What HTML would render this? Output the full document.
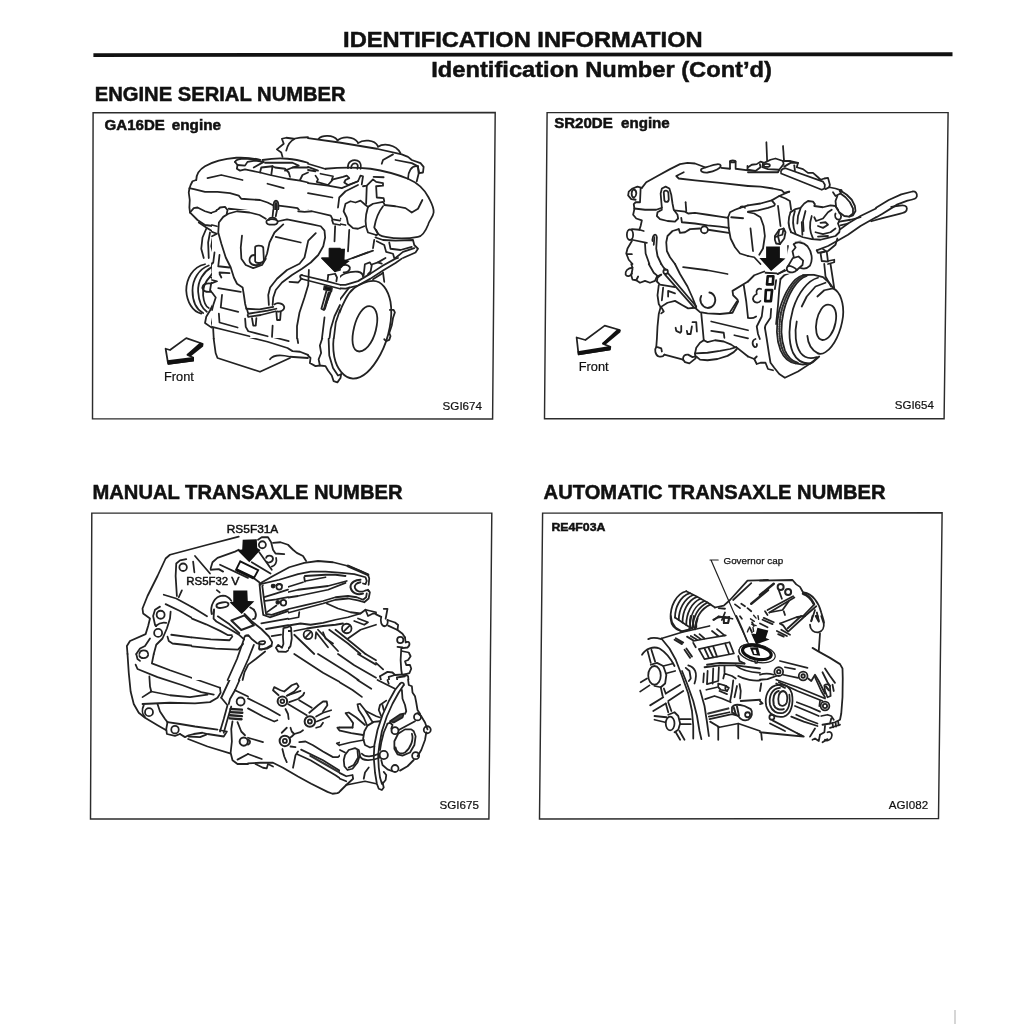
<!DOCTYPE html>
<html><head><meta charset="utf-8">
<style>
html,body{margin:0;padding:0;background:#fff;}
body{width:1024px;height:1024px;overflow:hidden;}
svg{display:block;filter:blur(0.45px);}
text{font-family:"Liberation Sans",sans-serif;fill:#111;stroke:#111;stroke-width:0.2;}
.b{font-weight:bold;stroke:#111;stroke-width:0.5;}
.ln{fill:none;stroke:#222;stroke-width:1.75;stroke-linecap:round;stroke-linejoin:round;}
.box{fill:none;stroke:#2c2c2c;stroke-width:1.45;stroke-linejoin:miter;}
.k{fill:#111;stroke:none;}
.t8{stroke-width:14.2;}
.w{fill:#fff;}
</style></head><body>
<svg width="1024" height="1024" viewBox="0 0 1024 1024">
<rect width="1024" height="1024" fill="#fff"/>
<!-- header -->
<text class="b" x="343.1" y="47.3" font-size="21.9" textLength="359.6" lengthAdjust="spacingAndGlyphs">IDENTIFICATION INFORMATION</text>
<polygon class="k" points="93.4,53.2 952.5,52.3 952.5,56.2 93.4,56.9"/>
<text class="b" x="431.3" y="76.6" font-size="22.6" textLength="340.6" lengthAdjust="spacingAndGlyphs">Identification Number (Cont’d)</text>
<text class="b" x="94.7" y="101.4" font-size="20.1" textLength="251" lengthAdjust="spacingAndGlyphs">ENGINE SERIAL NUMBER</text>
<text class="b" x="92.5" y="499.4" font-size="20.1" textLength="310" lengthAdjust="spacingAndGlyphs">MANUAL TRANSAXLE NUMBER</text>
<text class="b" x="543.6" y="499.4" font-size="20.1" textLength="342" lengthAdjust="spacingAndGlyphs">AUTOMATIC TRANSAXLE NUMBER</text>
<!-- boxes -->
<polygon class="box" points="93.1,112.7 495.2,112.6 492.6,419 92.5,418.8"/>
<polygon class="box" points="547.1,112.6 948.1,112.6 944.1,418.8 544.5,418.8"/>
<polygon class="box" points="91.8,513.1 491.8,513.1 488.9,819 90.5,819"/>
<polygon class="box" points="542.6,513.1 942.1,512.8 938.5,818.6 539.5,819"/>
<path d="M955,1010 L955,1024" style="stroke:#c8c8c8;stroke-width:1.5;fill:none"/>
<g id="d1">
<!-- tile A: origin 180,130 -->
<g transform="translate(180,130) scale(0.125)" class="ln t8">
<path d="M130,400 C130,360 150,320 200,290 C260,255 350,230 450,222 C520,218 580,225 640,238"/>
<path d="M130,400 L100,410 L85,440 L75,470 L70,500 L78,560 L75,620 L80,660"/>
<path d="M75,465 L120,475 L200,495 L300,495 L400,505 L470,525 L490,550 L560,555 L640,560 L700,580 L740,600"/>
<path d="M790,605 L870,615 L940,625 L960,650 L1024,655"/>
<path d="M80,660 L110,625 L140,620 L200,650 L250,665 L290,650 L320,620 L360,615 L380,640 L370,670 L330,700 L310,740 L300,800 L290,830"/>
<path d="M85,665 L140,720 L200,760 L280,770"/>
<path d="M150,740 L210,780 L290,830"/>
<path d="M390,630 L480,640 L560,650 L640,670 L700,700"/>
<path d="M790,720 L900,715 L1024,740"/>
<path d="M400,660 L330,700"/>
<path d="M220,385 L330,360 L500,400"/>
<path d="M700,430 L830,465"/>
<path d="M440,255 C450,235 470,228 520,228 L640,240"/>
<path d="M440,255 L460,280 L455,310 L480,325 L520,315 L640,340 L720,360 L860,390 L960,405 L1024,420"/>
<path d="M460,280 L520,285 L540,255 L600,245 L670,255 L590,300"/>
<path d="M640,340 L650,300 L740,290 L730,360"/>
<path d="M740,290 L760,300 L840,310 L870,340 L880,375"/>
<path d="M840,325 L900,300 L1024,300"/>
<path d="M960,400 L980,360 L1024,340"/>
<path d="M680,262 L900,262 L950,285 L900,300"/>
<path d="M660,240 C720,230 800,225 860,230 C920,235 980,250 1024,262"/>
<ellipse cx="768" cy="612" rx="20" ry="46"/>
<ellipse cx="768" cy="614" rx="7" ry="30"/>
<path d="M752,655 L745,700 M775,660 L772,700"/>
<ellipse cx="735" cy="740" rx="45" ry="20"/>
<path d="M705,715 C710,695 770,695 775,720"/>
<path d="M820,215 L810,180 L775,155 L830,110 L815,70 L850,62 L910,70 C950,60 990,58 1024,58"/>
<path d="M850,165 C860,120 880,90 915,72"/>
<path d="M300,830 L330,900 L360,1024"/>
<path d="M290,830 L260,870 L250,930 L270,1000"/>
<path d="M210,790 L180,860 L170,950 L190,1024"/>
<path d="M240,820 L225,900 L230,1024"/>
<path d="M490,840 L485,1024"/>
<path d="M830,750 L760,810 L720,870 L700,950 L690,1024"/>
<path d="M760,855 L965,895"/>
<path d="M1010,930 L1000,1024"/>
<path d="M560,1024 L590,990 L600,940 L640,925 L670,950 L680,1024"/>
</g>
<!-- tile B: origin 308,130 -->
<g transform="translate(308,130) scale(0.125)" class="ln t8">
<path d="M0,65 L250,100 L550,150 L750,195 L800,215 L830,240 L900,265 L925,295 L920,340 L890,345 L880,300"/>
<path d="M85,70 C110,40 200,35 235,80"/>
<path d="M235,85 C270,50 360,45 400,100"/>
<path d="M400,105 C440,75 530,75 560,130"/>
<path d="M560,135 C600,105 700,110 740,185"/>
<path d="M590,270 L600,240 L680,195"/>
<path d="M700,240 L830,265 L880,290"/>
<path d="M800,390 C800,330 830,285 870,290"/>
<path d="M880,290 L885,350 L870,410"/>
<path d="M140,310 C250,300 400,300 500,310 C600,325 700,350 800,390 C870,420 930,470 965,540 C985,580 1010,620 1005,660 C1000,700 970,720 960,760 C940,810 920,850 880,855 C800,870 700,870 620,855 C580,850 560,840 545,800"/>
<path d="M320,305 C315,250 360,235 395,245 C425,255 425,290 420,310"/>
<path d="M345,305 C345,275 365,262 385,268 C400,275 400,295 395,310"/>
<path d="M0,270 L100,300 L140,312"/>
<path d="M0,295 L80,325"/>
<path d="M0,320 L60,330"/>
<path d="M60,365 L80,395 L70,415 L160,440 L200,395 L280,375 L310,365 L330,385 L300,400 L290,420 L320,440 L400,410 L420,365 L440,370 L430,435"/>
<path d="M0,425 L160,445 L270,465 L330,440 L400,410"/>
<path d="M100,350 L200,370 L190,400"/>
<path d="M0,505 L195,540"/>
<path d="M240,620 L250,540 L300,490 L400,440"/>
<path d="M0,645 L180,685 L195,700 L190,740 L300,760"/>
<path d="M200,710 L260,710"/>
<path d="M480,615 L460,600 L420,565 L380,580 L340,570 L300,590 L285,650 L310,700 L320,750 L360,785 L400,790 L450,770"/>
<path d="M480,615 C460,680 450,760 480,820 L545,840"/>
<path d="M480,615 L520,590 L600,575 L610,590"/>
<path d="M600,610 C560,660 540,720 530,780 L560,830 L545,845"/>
<path d="M610,600 L700,610 L780,625 L830,660 L880,630 L915,560"/>
<path d="M465,590 L470,450"/>
<path d="M440,450 L470,445 L520,395 L545,415 L600,425 L600,445 L545,450 L550,540 L605,545 L610,570"/>
<path d="M525,375 L605,378"/>
<path d="M0,745 L80,760 L130,800 L140,850 L110,950 L85,1024"/>
<path d="M70,825 L0,880"/>
<path d="M215,770 L200,830 L215,860 L215,940"/>
<path d="M330,800 L320,970"/>
<path d="M530,880 L520,945"/>
<path d="M360,1024 L520,965"/>
<path d="M540,860 L600,880 L700,885 L840,880 L850,920 L880,950 L860,980 L760,1024"/>
<path d="M550,890 L610,920 L625,975 L680,990 L690,1024"/>
<path d="M650,900 L660,950 L740,960 L830,935"/>
<path d="M700,1024 L760,975 L850,945"/>
</g>
<!-- tile C: origin 180,258 -->
<g transform="translate(180,258) scale(0.125)" class="ln t8">
<path d="M200,50 C100,70 50,170 50,260 C55,350 100,430 170,445"/>
<path d="M230,60 C150,90 100,170 100,260 C100,340 130,410 185,440"/>
<path d="M250,75 C190,110 140,180 145,270 C150,340 170,400 215,430"/>
<path d="M240,150 C200,190 180,240 185,300 C190,350 210,390 230,400"/>
<path d="M180,240 C180,210 210,200 250,205"/>
<path d="M180,240 C185,270 220,275 260,270"/>
<path d="M270,0 L255,60 L260,120 L240,150 L290,180 L250,200 L240,260 L290,300 L270,360 L240,420 L210,470 L200,520 L250,555 L265,560"/>
<path d="M320,0 L300,62 L410,70"/>
<path d="M305,125 L400,120 M320,140 L330,165"/>
<path d="M360,0 L400,60 L430,120 L440,180 L500,220 L515,260 L520,330 L530,390 L545,440"/>
<path d="M310,240 L490,270"/>
<path d="M335,295 L325,400 L465,435"/>
<path d="M310,450 L315,520 L465,560"/>
<path d="M270,440 L255,520 L265,560"/>
<path d="M265,560 L270,650 L285,760 L300,800 L640,910 L880,800"/>
<path d="M265,560 L500,620 L700,670 L860,720 L900,745 L960,750 L1024,775"/>
<path d="M720,810 C740,780 800,770 880,790 L1024,800"/>
<path d="M530,395 L620,405 L745,395"/>
<path d="M540,450 L545,465 L640,450 L760,420"/>
<path d="M545,440 L700,415 L770,400"/>
<path d="M755,365 C770,345 820,350 830,380 C835,410 800,420 780,420"/>
<path d="M575,480 L585,540 L605,540 L610,480"/>
<path d="M770,430 L775,490 L800,495 L805,430"/>
<path d="M1024,20 L900,80 L800,150 L720,240 L705,290 L710,380"/>
<path d="M1024,95 L900,150 L800,230 L755,300 L745,370"/>
<path d="M880,185 L940,190 L1000,170"/>
<path d="M1024,190 L1015,250 L970,380 L940,520 L935,620 L945,680"/>
<path d="M520,480 L525,545 L545,580 L700,620"/>
<path d="M740,540 L735,630 L870,665"/>
<path d="M490,0 C490,50 540,85 590,85 C650,80 690,50 690,0"/>
<path d="M560,0 L565,40 L590,55 L640,45 L670,20"/>
</g>
<!-- tile D: origin 308,258 -->
<g transform="translate(308,258) scale(0.125)" class="ln t8">
<path d="M370,240 C420,205 470,185 520,183 C590,182 640,250 660,350 C680,470 650,640 580,770 C520,880 440,965 360,965 C290,960 230,890 210,790 C185,660 220,480 300,330 C320,290 345,260 370,240 Z"/>
<path d="M330,235 L250,340 L190,500 L165,650 L170,780 L200,880 L240,940 L265,930"/>
<path d="M490,385 C540,385 565,450 550,540 C535,640 480,745 410,748 C350,745 345,650 370,550 C395,450 445,385 490,385 Z"/>
<path d="M655,415 L685,415 L695,435 L680,480 L670,540 L650,600"/>
<path d="M650,600 L660,625 L650,655 L625,665 L610,650"/>
<path d="M0,165 L100,190 L200,215 L300,215 L400,185 L500,125 L600,60 L700,5 L720,0"/>
<path d="M0,195 L100,215 L200,240 L300,245 L400,220 L500,165 L600,100 L700,40 L750,5"/>
<path d="M265,75 C270,50 320,45 335,75 C340,100 310,120 285,115"/>
<path d="M240,180 C250,130 330,105 400,110 C430,115 440,130 440,150"/>
<path d="M445,140 L455,50 L495,35 L510,60 L500,110 L480,130"/>
<path d="M515,50 L560,35 L590,45"/>
<path d="M560,35 L620,0"/>
<path d="M600,115 L610,190"/>
<path d="M520,170 L600,120"/>
<path d="M160,140 L200,130 L225,145 L215,190"/>
<path d="M160,140 L155,185"/>
<path d="M0,90 L10,140 L0,165"/>
<path d="M145,480 L105,580 L115,640 L95,700 L105,760 L85,810 L95,860 L140,865 L160,900 L190,940 L205,985 L235,995 L260,960 L265,930"/>
<path d="M0,780 L20,800 L15,840 L60,865 L95,860"/>
<path d="M145,480 L200,330 L240,250"/>
<path d="M0,60 C40,50 70,20 80,0"/>
<path class="k" d="M130,225 L200,240 L195,262 L135,250 Z" style="fill:#111"/>
<path d="M150,260 L110,400 L130,410 L185,265"/>
<path d="M170,275 L135,400" style="stroke-width:22"/>
</g>
<!-- tile E overlay: origin 212,210 -->
<g transform="translate(212,210) scale(0.125)" class="ln t8">
<rect x="0" y="0" width="1024" height="1024" style="fill:#fff;stroke:none"/>
<path d="M275,790 L265,750 L255,680 L245,620 L200,590 L175,540 L150,460 L110,380 L75,270 L50,180 L55,100 L90,55 L130,30 L200,10 L300,20 L380,40 L430,70"/>
<path d="M530,90 L600,75 L700,95 L800,115 L870,130 L900,165 L905,220 L890,290 L850,360 L790,420 L720,470 L640,520 L560,580 L510,640 L490,700 L485,760"/>
<path d="M455,760 L450,680 L465,620 L520,550 L600,480 L700,430 L740,380 L760,290 L770,245 L830,185"/>
<path d="M570,115 L500,180 L460,260 L440,350 L420,400"/>
<path d="M510,215 L710,260"/>
<path d="M240,205 L230,300 L235,390 L270,440 L330,465 L400,440 L430,390"/>
<path d="M345,300 C345,280 400,280 410,300 L415,400 C410,430 350,430 345,410 Z"/>
<path d="M340,360 C300,360 295,400 305,420 C320,450 370,445 390,430"/>
<ellipse cx="480" cy="95" rx="45" ry="22"/>
<path d="M455,80 C455,55 510,55 515,80"/>
<path d="M490,0 L485,50 M520,0 L510,50"/>
<path d="M690,10 L740,15 L800,10 L950,45 L965,75 L1024,85"/>
<path d="M960,80 L970,110 L1024,120"/>
<path d="M985,130 L980,250"/>
<path d="M720,522 L900,565 L1024,598"/>
<path d="M720,552 L900,598 L1024,630"/>
<path d="M720,520 C700,520 700,545 720,550"/>
<path d="M620,575 L690,580 L715,550"/>
<path d="M775,480 L770,600 L740,700 L700,820 L680,930 L680,1024"/>
<path d="M930,520 L985,510 L1000,540 L995,570"/>
<path d="M930,520 L925,560"/>
<path d="M900,610 L960,625 L955,650 L895,635 Z" style="fill:#111"/>
<path d="M915,650 L875,790 L895,800 L950,655"/>
<path d="M935,665 L900,790" style="stroke-width:22"/>
<path d="M940,310 L1024,310 L1024,480 L985,490 L880,385 L940,385 Z" style="fill:#111"/>
<path d="M0,20 L30,10 L40,0"/>
<path d="M0,120 L40,130"/>
<path d="M0,175 L40,190 L0,210"/>
<path d="M20,340 L10,420 L0,430"/>
<path d="M60,360 L50,450 L140,460"/>
<path d="M60,500 L140,505 M60,510 L75,540"/>
<path d="M0,560 L40,570 L0,585"/>
<path d="M50,625 L230,655"/>
<path d="M80,680 L70,780 L210,815"/>
<path d="M55,830 L60,900 L205,940"/>
<path d="M0,660 L30,700 L10,760 L0,800"/>
<path d="M0,935 L100,960 L300,1010"/>
<path d="M9,944 L14,1030"/>
<path d="M124,0 L118,30"/>
<path d="M275,790 L380,795 L490,775"/>
<path d="M285,840 L290,855 L390,840 L510,810"/>
<path d="M280,795 L290,830 L445,805 L515,790"/>
<path d="M500,755 C520,735 570,745 578,775 C580,805 545,815 525,812"/>
<path d="M320,865 L330,925 L350,925 L355,865"/>
<path d="M515,815 L520,880 L545,880 L550,815"/>
<path d="M265,870 L270,935 L290,970 L445,1010"/>
<path d="M485,925 L480,1015"/>
<path d="M1024,760 L980,850 L950,950 L940,1024"/>
<path d="M1024,800 L990,900 L975,1024"/>
<path d="M900,860 L880,1024"/>
</g>
<path class="ln" d="M344.5,261 L368,252.3"/>
<!-- black arrow -->
<polygon class="k" points="329.5,248.8 345,248.8 344.5,259.5 349.8,261 335,272.2 321.3,258 329.5,258.5"/>
<!-- Front arrow: origin 150,320 -->
<g transform="translate(150,320) scale(0.125)">
<path class="ln t8" d="M125,230 L160,240 L290,145 L420,190 L300,280 L345,300 L345,325 L145,350 Z"/>
<polygon class="k" points="400,180 428,190 425,212 325,292 292,276"/>
<polygon class="k" points="138,322 330,298 352,298 352,330 145,358"/>
</g>
<text x="164" y="381.3" font-size="12.3" textLength="29.8" lengthAdjust="spacingAndGlyphs">Front</text>
</g>

<g id="d2">
<!-- D2-A origin 620,136 -->
<g transform="translate(620,136) scale(0.125)" class="ln t8">
<path d="M175,415 L210,370 L300,320 L400,265 L480,225 L540,215 L600,220 L680,250"/>
<path d="M650,265 C640,280 660,295 700,292 C760,285 810,255 805,235 C800,220 760,225 720,240 C690,250 660,255 650,265 Z"/>
<path d="M810,255 L880,262"/>
<path d="M880,205 L880,260 M925,205 L925,258 M925,262 L1024,275 M1020,240 L1020,270"/>
<ellipse cx="902" cy="203" rx="22" ry="8"/>
<path d="M510,290 L450,320 L470,340 L600,355 L800,375 L1024,400"/>
<path d="M175,415 L140,405 L100,420 L70,445 L65,475 L90,505 L125,510"/>
<path d="M110,425 C90,440 85,480 110,495 C135,480 140,440 110,425 Z"/>
<path d="M165,420 L160,530 L125,530 L110,545 L115,580"/>
<path d="M115,580 L200,590 L290,590 L335,575"/>
<path d="M335,575 L330,520 L325,460 L335,420 L365,405 L395,420 L410,470 L420,540 L430,590 L460,630 L465,660 L440,685 L380,680 L320,665 L295,640 L300,610 L335,590"/>
<path d="M350,450 C355,430 385,435 387,455 L390,510 C385,535 360,530 355,515 Z"/>
<path d="M435,595 L520,605 L545,620 L600,615 L700,630 L800,645 L865,655"/>
<path d="M525,530 L530,600"/>
<path d="M490,655 L495,690 L600,700 L700,715 L800,725 L870,735"/>
<path d="M115,585 L105,630 L130,660 L175,675 L165,720 L155,750"/>
<path d="M95,745 L155,750 L190,760"/>
<ellipse cx="80" cy="790" rx="25" ry="42"/>
<path d="M95,830 L215,855"/>
<path d="M95,840 L60,900 L50,940 L70,990 L100,1024 M60,945 L95,945"/>
<path d="M200,860 L205,940 L235,1024"/>
<path d="M260,840 C255,790 290,770 295,810 L290,900 L300,960 L330,1024"/>
<path d="M275,810 L270,870"/>
<path d="M470,745 L420,760 L380,800 L370,850 L375,920 L400,970 L440,1024"/>
<path d="M470,745 L480,775 L520,770 L560,745 L640,740"/>
<circle cx="675" cy="750" r="28"/>
<path d="M705,750 L870,775"/>
<path d="M865,650 L880,610 L920,590 L960,575 L1024,555"/>
<path d="M960,575 C965,560 990,560 1000,575"/>
<path d="M865,650 L870,740 L885,820 L920,890 L960,940 L1024,960"/>
<path d="M890,650 L985,658"/>
</g>
<!-- D2-B origin 748,136 -->
<g transform="translate(748,136) scale(0.125)" class="ln t8">
<path d="M147,50 L153,200" style="stroke-width:14"/>
<path d="M280,80 L288,195" style="stroke-width:14"/>
<path d="M0,250 L30,230 L70,225 L100,205 L130,215 L180,190 L220,180 L280,200 L340,200 L400,215 L390,250 L440,265 L480,295 L520,295 L560,330 L580,350 L610,340 L640,335 L655,390 L650,410"/>
<path d="M0,270 L60,280 L100,250 L95,225"/>
<path d="M120,215 L115,250 L160,265 L250,270 L285,225 L280,200"/>
<path d="M250,270 L240,290 L0,290"/>
<path d="M290,245 L340,215 L400,215"/>
<ellipse cx="150" cy="235" rx="25" ry="12"/>
<path d="M370,235 L375,275"/>
<path d="M300,258 L600,365 L615,390 L612,420 L590,430 L265,300 C255,280 275,258 300,258 Z"/>
<path d="M0,400 L100,405 L200,420 L270,435 L290,455 L330,445"/>
<path d="M0,555 L100,540 L190,515 L250,480 L330,445"/>
<path d="M0,605 L80,595 L160,575 L210,558 L215,545 L190,515"/>
<path d="M650,410 L700,420 L745,435"/>
<path d="M650,410 L620,425"/>
<circle cx="742" cy="440" r="8" style="fill:#111"/>
<path d="M745,440 L790,470 L830,510 L855,560 L860,600 L840,635 L810,645"/>
<path d="M740,460 L780,490 L815,530 L840,580 L840,620 L815,640"/>
<path d="M680,450 L700,480 L720,470 L740,460"/>
<path d="M715,480 L700,520 L705,570 L730,610 L770,640 L810,645"/>
<path d="M340,610 L380,585 L420,575 L450,540 L480,520 L520,525 L535,545 L530,560 L600,570 L660,555 L700,560 L720,590"/>
<path d="M340,610 C320,660 320,720 345,770"/>
<path d="M375,600 C355,660 355,720 380,780"/>
<path d="M345,770 L380,785 L440,810 L510,825 L580,830 L640,815 L700,800 L730,770 L735,740 L720,700 L730,680"/>
<path d="M510,640 C490,700 495,770 520,820"/>
<path d="M420,580 L400,640 L395,700"/>
<path d="M460,600 L440,680 L445,760"/>
<path d="M430,690 L435,790"/>
<path d="M530,650 L545,680 L600,660 L640,610 L670,590"/>
<path d="M560,720 L600,735 L640,710 L620,690 L580,695"/>
<path d="M540,770 L600,785 L660,770 L700,740"/>
<path d="M560,805 L640,800"/>
<path d="M700,620 C690,640 700,670 730,670 C750,660 750,630 730,615"/>
<path d="M1024,580 L900,640 L800,700 L740,745"/>
<path d="M1024,650 L900,720 L800,790 L730,830 L640,880 L550,915"/>
<path d="M730,685 L820,670 L900,650"/>
<path d="M740,715 L800,700"/>
<path d="M715,820 L700,870 L640,920 L580,935"/>
<path d="M215,800 L250,750 L285,740 L300,770 L290,820 L255,865 L225,860 L215,830 Z"/>
<path d="M250,750 L240,800 L255,865 M240,800 L215,810 M285,740 L275,790 L240,800"/>
<path d="M0,610 L50,620 L100,650 L125,720 L135,800 L120,900 L90,950"/>
<path d="M20,740 L40,920"/>
<path d="M0,960 L50,970 L100,1024"/>
<path d="M240,560 L250,640 L260,720"/>
<path d="M250,480 L300,500 L335,520 L345,590"/>
<path d="M320,880 L325,960"/>
<path d="M380,850 L420,845 L470,870 L500,920 L510,1024"/>
<path d="M380,850 L370,870 L390,890 L360,920 L350,960 L380,975 L340,1024"/>
<path d="M400,880 L460,900 L480,960 L470,1024"/>
<path d="M550,915 L560,935 L610,925"/>
<path d="M580,935 L590,1000 L640,1005 L630,925 L600,905"/>
<path d="M640,1000 L690,990 L690,1010 L640,1024"/>
</g>
<!-- D2-C origin 620,264 -->
<g transform="translate(620,264) scale(0.125)" class="ln t8">
<path d="M100,30 C60,30 40,60 45,85 C55,105 85,100 95,75"/>
<path d="M100,40 L90,90 L100,125 L130,130 L145,100"/>
<path d="M130,130 L160,150 L200,135 L240,150 L280,135 L295,100 L330,85"/>
<path d="M90,0 L100,30"/>
<path d="M230,0 L270,70 L300,95"/>
<path d="M330,85 L300,110 L295,140 L320,165 L380,175 L440,185"/>
<path d="M310,170 L300,250 L310,320 L325,345"/>
<path d="M345,190 L335,290"/>
<path d="M385,215 L385,260 M385,215 L440,235"/>
<path d="M325,345 L380,310 L440,295 L500,330 L545,355 L600,350"/>
<circle cx="365" cy="62" r="18"/>
<path d="M360,85 L590,345"/>
<path d="M385,75 L610,340"/>
<path d="M330,0 L350,30 L365,45"/>
<path d="M440,0 L480,80 L540,180 L580,270 L610,345"/>
<path d="M505,25 L700,50 L860,80"/>
<path d="M650,255 C630,290 650,340 700,352 C745,350 770,310 760,270 C750,240 730,230 715,228"/>
<path d="M600,350 L640,385 L700,395 L800,400 L900,390 L945,300 L940,285 L905,250 L900,215 L1024,140"/>
<path d="M880,385 L935,300"/>
<path d="M990,170 L1010,300 L1024,430"/>
<path d="M325,345 L310,400 L300,500 L295,600 L290,665"/>
<path d="M330,345 L350,380 L330,395"/>
<path d="M290,665 C275,680 280,730 310,740 C335,745 350,735 355,725"/>
<path d="M300,665 L330,675 L335,700"/>
<path d="M355,725 L430,745 L505,765"/>
<path d="M505,765 C500,740 520,720 545,725 L580,745 L600,740"/>
<path d="M505,765 L520,785 L555,795 L605,755 L600,720"/>
<path d="M650,395 L660,500 L670,610"/>
<path d="M445,510 L450,535 L480,550 L490,540 L490,495"/>
<path d="M535,535 L540,560 L565,560 L575,500"/>
<path d="M580,465 L610,465 L615,540"/>
<path d="M670,610 L640,630 L610,670 L600,715"/>
<path d="M670,610 L700,625 L760,610 L830,620 L890,645 L920,665"/>
<path d="M600,715 L700,710 L800,695 L880,680 L930,665"/>
<path d="M610,740 L640,765 L700,770 L780,760 L860,735 L910,705 L935,680"/>
<path d="M930,665 L1024,740"/>
<path d="M730,460 L1024,530"/>
<path d="M730,535 L830,550 L835,590"/>
<path d="M915,570 L1024,595"/>
</g>
<!-- D2-D origin 748,264 -->
<g transform="translate(748,264) scale(0.125)" class="ln t8">
<path d="M440,90 C360,110 290,230 250,370 C225,480 225,600 260,690 C290,760 340,790 380,795"/>
<path d="M470,95 C390,120 320,240 285,380 C260,490 265,610 295,690 C320,750 360,780 400,790"/>
<path d="M455,92 C375,115 305,235 268,375 C243,485 245,605 278,690 C305,755 350,785 390,792" style="stroke-width:18;stroke-dasharray:6 13;stroke:#333"/>
<path d="M440,90 L520,85 L600,105 L650,150 L680,190"/>
<path d="M560,110 C480,130 400,230 360,360 C325,480 320,620 360,710 C390,770 440,800 500,795"/>
<path d="M620,150 L540,180 L470,260 L430,340"/>
<path d="M390,460 C370,550 380,650 420,710 C450,750 500,760 550,745"/>
<path d="M680,195 L610,210 L555,260"/>
<path d="M475,575 C480,640 510,690 560,715"/>
<path d="M680,195 C740,220 770,320 760,420 C745,540 690,660 620,705 C590,725 570,720 560,715"/>
<path d="M640,325 C700,325 715,400 700,470 C685,550 640,610 595,608 C545,600 535,520 550,450 C565,380 600,325 640,325 Z"/>
<path d="M380,795 L440,805 L500,795 L560,745"/>
<path d="M500,795 L520,785 L570,740"/>
<path d="M610,0 L620,100 L665,180"/>
<path d="M660,0 L690,195"/>
<path d="M260,120 L290,90 L340,70 L440,25 L500,10"/>
<path d="M260,120 L250,200 L240,330 L225,480"/>
<path d="M225,130 L215,200"/>
<path d="M135,510 L150,600 L165,700 L180,790 L210,830 L250,880 L295,910 L400,860 L500,795"/>
<path d="M185,360 L180,430 L140,490 L135,510"/>
<path d="M158,98 L203,98 L198,163 L152,163 Z" style="stroke-width:21;stroke:#111"/>
<path d="M143,208 L193,208 L183,297 L138,297 Z" style="stroke-width:21;stroke:#111"/>
<path d="M105,200 C80,190 60,210 70,240 C50,250 30,270 45,295 C60,315 90,310 100,295"/>
<path d="M0,140 L50,90 L130,60"/>
<path d="M140,70 L230,75"/>
<path d="M240,80 L300,45 L330,50"/>
<ellipse cx="345" cy="38" rx="35" ry="28" transform="rotate(-20 345 38)"/>
<path d="M380,30 L430,5"/>
<path d="M430,30 L500,25 L510,0"/>
<path d="M0,430 C30,440 50,430 65,420"/>
<path d="M120,340 L110,420 L70,500 L80,560 L95,600"/>
<path d="M60,600 C30,610 30,650 55,665 C70,665 75,650 70,640"/>
<path d="M0,740 L50,760 L70,740"/>
<path d="M50,760 L70,800 L100,790 L140,790 L160,840 L200,850"/>
</g>
<!-- pipes right: origin 820,180 -->
<g transform="translate(820,180) scale(0.125)" class="ln t8">
<path d="M448,222 L550,160 L650,115 L740,92 C765,90 778,105 775,130 C770,150 760,152 700,165 L620,195 L500,270 L448,300"/>
<path d="M570,215 L640,205 C670,200 695,205 695,228 C695,250 690,258 620,275 L500,305 L410,330"/>
</g>
<g transform="translate(690,210) scale(0.125)" class="ln t8">
<path d="M800,250 L1000,250 L1000,510 L760,510 L760,430 Z" style="fill:#fff;stroke:none"/>
<path d="M830,275 C850,250 905,255 940,290 C975,335 985,400 960,445 C935,472 905,472 880,462"/>
<path d="M830,275 L845,300 L820,330 L830,375"/>
<path d="M822,385 L868,372 L905,405 L900,440 L855,480 C840,500 805,505 785,492 C768,478 772,460 785,448 Z" style="fill:#fff"/>
<path d="M785,448 C805,445 842,462 855,480"/>
<path d="M775,480 L700,512"/>
</g>
<!-- black arrow: top rect from tile B (145..255, 885..975), wings, tip in tile D (185,55) -->
<polygon class="k" points="766.1,246.6 779.9,246.6 779.9,257.9 785.5,258.5 771.1,270.9 759.3,257.9 766.1,257.9"/>
<!-- Front arrow: origin 556,300 -->
<g transform="translate(556,300) scale(0.125)">
<path class="ln t8" d="M165,300 L235,320 L390,205 L510,240 L375,350 L435,375 L430,395 L180,435 Z"/>
<polygon class="k" points="492,232 518,240 515,258 395,358 368,345"/>
<polygon class="k" points="172,410 420,370 440,372 436,402 178,442"/>
</g>
<text x="578.8" y="371.3" font-size="12.3" textLength="29.8" lengthAdjust="spacingAndGlyphs">Front</text>
</g>

<g id="d3">
<!-- D3-A origin 120,526 -->
<g transform="translate(120,526) scale(0.125)" class="ln t8">
<path d="M950,85 L700,150 L400,230 L365,260 L300,400 L220,560 L180,660 L185,700 L240,740 L225,800 L205,865 L80,920 L55,960 L60,1024"/>
<path d="M530,265 L480,275 L450,300 L445,400 L455,560"/>
<path d="M495,515 L470,570"/>
<circle cx="505" cy="330" r="30"/>
<path d="M585,285 L595,370"/>
<path d="M600,240 L720,380"/>
<path d="M725,340 L740,290 L780,255 L920,205 L950,190"/>
<path d="M725,350 L790,345 L825,365"/>
<path d="M800,310 L1024,415" style="stroke-width:14"/>
<path d="M350,550 L450,580 L560,640 L690,720"/>
<path d="M365,625 L480,680 L600,750 L750,830 L850,880 L900,885"/>
<path d="M410,870 L600,895 L780,905 L880,900 L900,885"/>
<path d="M380,885 L390,920 L420,940 L600,960 L800,985 L960,990"/>
<path d="M320,645 L280,670 L265,720 L280,790 L290,800"/>
<circle cx="325" cy="710" r="32"/>
<path d="M405,685 L400,740 L375,820 L340,900 L290,950 L270,1024"/>
<path d="M285,800 C320,770 350,770 370,775"/>
<circle cx="305" cy="855" r="32"/>
<path d="M240,900 L200,960 L160,980 L130,1024"/>
<path d="M155,1024 C160,985 220,985 225,1024"/>
<path d="M740,700 C720,640 740,580 800,565 C850,560 880,590 890,610"/>
<path d="M760,655 L750,720 L800,760 L960,860 L1000,890 L1024,880"/>
<path d="M740,640 L745,700"/>
<path d="M980,940 L950,1024"/>
</g>
<!-- D3-B origin 248,526 -->
<g transform="translate(248,526) scale(0.125)" class="ln t8">
<path d="M80,110 L110,90 L160,90 L185,130 L200,190 L220,220 L290,225"/>
<circle cx="115" cy="150" r="28"/>
<path d="M90,210 L190,350"/>
<path d="M30,290 L180,380"/>
<path d="M145,255 C150,230 195,230 200,260 C200,290 160,300 150,285"/>
<path d="M225,255 C235,290 215,320 190,325"/>
<path d="M200,135 L260,130 L320,150 L360,190 L390,215 L440,240 L465,280"/>
<path d="M50,420 L90,450"/>
<path d="M95,460 L200,400 L330,330 L450,295 L560,280 L680,290 L800,320 L900,360 L960,390 L970,420 L965,470"/>
<path d="M800,320 L960,390" style="stroke-width:22"/>
<path d="M100,465 L250,430 L400,385 L500,365 L620,365 L750,375 L850,385 L940,410 L950,440 L940,465 L920,460"/>
<path d="M450,410 L455,445"/>
<path d="M455,400 L620,390 L700,390 L780,400"/>
<path d="M460,440 L620,410"/>
<path d="M95,460 L100,520 L110,640 L125,720 L160,740"/>
<path d="M120,475 L130,570 L140,690 L160,710"/>
<path d="M150,570 L400,510 L640,480 L790,440"/>
<path d="M140,600 L400,560 L640,510 L780,455"/>
<path d="M280,500 L440,450"/>
<circle cx="250" cy="490" r="25"/>
<circle cx="205" cy="485" r="14" style="fill:#111"/>
<circle cx="285" cy="615" r="25"/>
<circle cx="243" cy="615" r="14" style="fill:#111"/>
<path d="M160,740 L300,700 L450,660 L600,620 L700,590 L800,580 L880,595 L930,610 L965,580 L975,530 L960,510"/>
<path d="M160,710 L300,670 L450,635 L600,600 L700,570 L800,560 L870,570 L920,590 L945,570 L950,540"/>
<path d="M150,690 L250,640"/>
<path d="M900,430 C860,430 820,450 820,490 C830,540 880,555 920,540" style="stroke-width:16"/>
<path d="M900,450 C870,455 850,470 855,495 C865,525 900,530 930,520 C950,510 960,510 965,520"/>
<path d="M410,690 L405,730 L300,750 L130,780"/>
<path d="M150,825 L300,800 L420,780 L500,790 L600,775 L700,750 L800,730 L900,700 L940,670 L1024,690"/>
<path d="M630,620 L720,660 L820,690 L900,700"/>
<path d="M190,885 L280,865"/>
<path d="M370,840 L470,820 L600,800 L700,790 L760,780"/>
<path d="M940,670 L960,720 L1000,700 L1024,700"/>
<path d="M880,740 L960,770 L930,790 L850,760"/>
<circle cx="790" cy="820" r="38"/>
<path d="M765,845 L815,795"/>
<path d="M800,900 L900,830 L1024,790"/>
<circle cx="480" cy="870" r="35"/>
<path d="M458,895 L502,848"/>
<path d="M370,870 L530,1024"/>
<path d="M540,900 L545,850 L640,970"/>
<path d="M600,850 L620,900 L680,940"/>
<path d="M650,830 L800,940 L900,1024"/>
<path d="M700,830 L850,950 L940,1024"/>
<path d="M560,830 L720,1000"/>
<path d="M285,810 C290,795 340,795 345,815 L350,900 L340,960 C320,1000 270,1010 240,990 C220,970 240,950 260,965 C290,975 300,950 300,930 L290,860 Z"/>
<path d="M285,840 L345,840"/>
</g>
<!-- D3-C origin 340,590 (use x>288) -->
<g transform="translate(340,590) scale(0.125)" class="ln t8">
<path d="M288,195 L330,215"/>
<path d="M350,150 L380,150 L365,230" style="stroke-width:14"/>
<path d="M330,215 C320,250 330,290 360,290 C380,285 385,260 380,240"/>
<path d="M380,240 L440,260 L465,280 L460,320 L385,285"/>
<path d="M460,320 L500,350 L520,380"/>
<circle cx="482" cy="400" r="25"/>
<path d="M520,380 L525,420 C560,400 565,440 540,460 L500,465"/>
<path d="M460,455 L500,460"/>
<path d="M490,470 L485,560 L490,640 L495,670"/>
<path d="M500,490 L550,500 L565,530 L545,560 L520,570 L530,600 L560,600 L570,630 L555,665 L520,675"/>
<path d="M288,583 L345,635"/>
<path d="M320,690 L380,655 L420,660 L440,680 L520,675 L545,690 L550,750 L520,755 L460,740 L455,700 L520,690"/>
<path d="M320,690 L330,730 L395,750 L390,695 L440,680"/>
<path d="M395,750 L460,770"/>
<path d="M330,730 L440,790"/>
</g>
<!-- D3-D origin 120,654 -->
<g transform="translate(120,654) scale(0.125)" class="ln t8">
<path d="M60,0 L70,150 L85,300 L110,400 L150,470 L200,510 L300,570 L370,610"/>
<path d="M155,15 C165,40 215,40 225,10"/>
<path d="M130,0 L140,40 L160,55"/>
<path d="M270,0 L255,75 L400,130 L600,200 L800,270"/>
<path d="M125,85 L140,120 L300,185 L500,250 L650,305 L750,325"/>
<path d="M800,270 L805,310 L780,350 L720,385 L600,395 L400,390 L180,400"/>
<path d="M235,180 L240,260 L250,300"/>
<path d="M250,300 L180,345"/>
<path d="M250,300 L400,330 L560,345 L700,325"/>
<circle cx="232" cy="465" r="32"/>
<path d="M190,410 C175,440 175,480 200,505"/>
<path d="M300,400 L320,460 L360,520 L380,545"/>
<path d="M380,545 L370,600 L375,640 L440,655 L480,640"/>
<circle cx="440" cy="605" r="30"/>
<path d="M380,545 L480,560 L600,580 L780,605"/>
<path d="M480,640 L520,665 L550,650 L590,640 L660,630 L700,640 L830,660 L855,620 L800,610"/>
<path d="M550,660 L640,665 L690,645"/>
<path d="M545,680 L700,740 L880,795"/>
<path d="M950,0 L880,200 L810,350"/>
<path d="M1024,60 L960,200 L920,290"/>
<path d="M920,290 L880,360 L870,400"/>
<path d="M810,350 L860,410 L830,520 L800,620"/>
<path d="M890,420 L855,540 L830,630"/>
<path d="M920,290 L1024,340"/>
<circle cx="965" cy="380" r="32"/>
<path d="M885,440 L975,445 M882,465 L978,470 M880,490 L975,497 M878,515 L972,522" style="stroke-width:20;stroke:#222"/>
<path d="M900,540 L890,600 L895,700 L885,790 L900,850 L940,880 L1024,880"/>
<path d="M940,545 L970,620 L1000,650"/>
<circle cx="990" cy="700" r="33" style="stroke-width:16"/>
<path d="M1024,800 L940,845"/>
</g>
<!-- D3-E origin 248,654 -->
<g transform="translate(248,654) scale(0.125)" class="ln t8">
<path d="M370,0 L600,150 L800,260 L880,310 L905,345"/>
<path d="M560,0 L800,150 L985,280"/>
<path d="M720,0 L850,90 L1024,190"/>
<path d="M880,0 L1024,85"/>
<path d="M940,0 L1024,50"/>
<path d="M0,90 L110,0"/>
<path d="M0,355 L150,430 L255,490"/>
<path d="M0,435 L120,500 L210,540 L235,530"/>
<circle cx="275" cy="378" r="38" style="stroke-width:16"/>
<circle cx="275" cy="378" r="15"/>
<path d="M245,330 L200,290 L210,265 L260,290 L290,300 L350,250 L390,235 L405,260 L370,300 L310,335"/>
<path d="M320,330 L420,295"/>
<path d="M330,385 L400,360 L440,330 L450,310"/>
<path d="M320,400 L470,490"/>
<path d="M410,370 L510,430"/>
<path d="M300,440 L320,480 L325,520"/>
<circle cx="495" cy="540" r="42" style="stroke-width:16"/>
<circle cx="495" cy="540" r="16"/>
<path d="M490,470 L560,410 L600,380 L630,380 L635,410 L600,460"/>
<path d="M545,500 L600,470 L665,450"/>
<path d="M550,540 L650,500"/>
<path d="M545,590 L580,580 L600,550"/>
<circle cx="295" cy="695" r="42" style="stroke-width:16"/>
<circle cx="295" cy="695" r="16"/>
<path d="M270,630 L310,590"/>
<path d="M340,590 L350,620 L370,640 L350,660 L335,670"/>
<path d="M370,640 L420,625 L440,610"/>
<path d="M340,740 L380,745"/>
<path d="M275,760 L290,820 L310,865"/>
<path d="M410,705 L460,700 L520,730 L600,780 L680,825 L720,825 L760,790 L800,750"/>
<path d="M425,765 L600,850 L760,950 L840,965 L850,1000 L835,1024"/>
<path d="M500,815 L780,975" style="stroke-width:18;stroke:#333"/>
<path d="M400,780 L380,810 L370,860 L360,910"/>
<path d="M390,800 L500,850 L700,970 L780,1024"/>
<path d="M1024,545 L1000,540 L960,470 L920,420 L880,400 L890,440 L940,530 L950,580"/>
<path d="M880,480 L860,510 L790,470 L800,500 L850,560 L930,640"/>
<path d="M840,580 L715,590 L730,610 L800,640 L920,655"/>
<path d="M900,680 L800,690 L710,715 L730,730 L800,735"/>
<path d="M945,360 L950,420 L980,450"/>
<path d="M1024,545 C960,560 920,620 920,680 C925,720 950,740 1000,745"/>
<path d="M1000,600 L990,700 L1000,750 L1000,840"/>
<path d="M790,800 L820,770 L870,750 L900,760 L915,800 L900,870 L870,920 L820,940 L785,920 L775,870 Z"/>
<path d="M880,760 L890,830 L850,890 L810,905"/>
<path d="M900,820 C920,860 960,870 1024,860"/>
<path d="M915,790 C930,825 980,830 1024,825"/>
<path d="M980,900 L950,940 L930,1000"/>
<path d="M1010,900 L1000,1024"/>
<path d="M0,875 L100,870 L200,870 L280,910 L400,980 L480,1024 L506,1038 L636,1103 L676,1118 L716,1113 L740,1100"/>
<path d="M60,880 L120,910 L150,915 L160,880 L200,900"/>
<path d="M0,670 L120,705"/>
<path d="M0,800 L110,840"/>
<path d="M0,685 C20,690 25,715 0,725"/>
</g>
<!-- D3-F overlay origin 340,680 -->
<g transform="translate(340,680) scale(0.125)" class="ln t8">
<rect x="0" y="0" width="1024" height="1024" style="fill:#fff;stroke:none"/>
<path d="M0,20 L100,80 L175,135"/>
<path d="M140,0 L250,70"/>
<path d="M300,0 L440,70"/>
<path d="M380,0 L390,30"/>
<path d="M480,30 L440,80 L390,170 L340,280 L300,400 L275,520 L270,620 L280,740 L295,830 L310,870 L335,880 L350,860 L340,820"/>
<path d="M510,40 L470,100 L420,190 L375,290 L335,410 L315,520 L305,600 L310,700 L320,780 L335,830"/>
<path d="M480,30 C490,15 515,20 510,40"/>
<path d="M545,0 L550,40 L575,50 L580,100 L600,130 L610,180 L620,240 L640,270"/>
<path d="M495,80 L500,150 L520,200 L530,250 L520,270"/>
<path d="M370,165 L320,200 L310,240 L330,290"/>
<path d="M340,200 L350,240"/>
<path d="M260,335 L250,320 L200,240 L160,190 L140,195 L150,240 L190,300 L215,360"/>
<path d="M200,360 L130,300 L70,260 L45,265 L80,310 L105,345 L100,380"/>
<path d="M210,250 L290,290 L320,300"/>
<path d="M0,380 L100,380"/>
<path d="M0,405 L90,425 L185,440"/>
<path d="M0,520 L80,500 L190,480"/>
<path d="M320,330 L270,335 L220,365 L195,410 L185,470 L200,520 L240,540 L275,530"/>
<path d="M620,265 L650,290 L680,340 L700,395"/>
<path d="M690,420 L680,480 L650,560 L620,610"/>
<path d="M590,640 L540,690 L480,725"/>
<path d="M420,730 L380,715 L340,680 L330,640"/>
<path d="M380,350 L350,420 L330,500 L320,560"/>
<circle cx="620" cy="295" r="28"/>
<circle cx="698" cy="398" r="28"/>
<circle cx="605" cy="605" r="28"/>
<circle cx="440" cy="708" r="28"/>
<circle cx="440" cy="405" r="28" style="stroke-width:15"/>
<circle cx="350" cy="600" r="33" style="stroke-width:15"/>
<path d="M590,410 L605,450 L595,520 L560,580 L500,605 L460,595 L435,550 L435,490 L465,430 L520,395 L570,395 Z"/>
<path d="M575,430 C590,470 570,540 520,580 C480,600 450,580 445,540"/>
<path d="M470,400 L600,330"/>
<path d="M380,350 L400,340 L420,360 L410,390"/>
<path d="M400,330 L480,275 L510,270 L500,300 L430,340 Z" style="fill:#444"/>
<path d="M40,600 L70,560 L120,545 L150,560 L160,600 L140,660 L100,710 L60,720 L35,690 L30,640 Z"/>
<path d="M140,565 L145,620 L110,680 L70,700"/>
<path d="M160,610 C180,650 250,650 320,620"/>
<path d="M175,590 C200,620 260,615 310,590"/>
<path d="M0,560 L40,580"/>
<path d="M0,745 L50,770 L100,760 L105,790 L50,840 L0,890"/>
<path d="M50,840 L200,810 L290,830"/>
<path d="M0,790 L50,810"/>
<path d="M230,700 L200,740 L190,790"/>
<path d="M350,735 L370,760 L365,800 L340,830"/>
</g>
<!-- D3-G overlay origin 192,584 scale 96/1024 -->
<g transform="translate(192,584) scale(0.09375)" class="ln" style="stroke-width:19">
<rect x="0" y="18" width="1024" height="1006" style="fill:#fff;stroke:none"/>
<path d="M210,320 C190,230 240,130 330,125 C370,125 400,150 420,180"/>
<path d="M235,270 L225,320"/>
<ellipse cx="325" cy="225" rx="65" ry="28" transform="rotate(-10 325 225)" style="stroke-width:20"/>
<path d="M620,250 C670,270 700,320 670,370 L650,375"/>
<path d="M235,280 L230,370 L260,400 L400,480 L500,540 L555,590"/>
<path d="M570,550 L600,545 L640,590 L690,630 L720,640"/>
<path d="M560,320 L640,400 L740,480 L820,560 L855,620 L850,650 L800,680 L740,700 L715,690 L720,640"/>
<path d="M275,345 L400,430 L505,525"/>
<path d="M555,590 C550,560 575,545 600,555"/>
<path d="M720,640 C700,620 730,605 770,610 C790,615 780,640 750,645 Z"/>
<path d="M720,700 L800,690 L850,660"/>
<path d="M420,390 L560,335 L660,440 L525,490 Z" style="stroke-width:22"/>
<path d="M0,245 L160,345"/>
<path d="M0,370 L150,430 L300,500 L380,545 L425,545"/>
<path d="M0,570 L200,590 L400,600 L430,560"/>
<path d="M0,665 L250,690 L490,700 L545,640"/>
<path d="M550,600 L480,800 L380,1024"/>
<path d="M660,650 L600,800 L500,1024"/>
<path d="M780,720 L680,800 L600,860 L560,940 L540,1024"/>
<path d="M720,0 L735,150 L760,330 L830,355 L1024,290"/>
<path d="M750,20 L770,180 L790,320 L850,330 L1024,270"/>
<path d="M770,140 L900,100 L1024,60"/>
<path d="M780,180 L900,165 L1024,140"/>
<path d="M800,300 L900,230"/>
<circle cx="930" cy="30" r="30"/>
<circle cx="975" cy="200" r="30"/>
<circle cx="865" cy="22" r="16" style="fill:#111"/>
<circle cx="915" cy="195" r="16" style="fill:#111"/>
<path d="M740,420 L1024,370"/>
<path d="M790,480 L1024,440"/>
<path d="M850,555 L950,540"/>
<path d="M1024,460 L975,470 L970,560 L975,640 L960,680 L920,650 L895,680 L920,720 L1000,725 L1024,710"/>
<path d="M265,65 L295,90"/>
<polygon class="k" points="440,70 590,70 595,180 665,185 530,320 400,195 440,190" style="fill:#111;stroke:none"/>
</g>
<!-- arrow 1 + label 1 (source coords) -->
<polygon class="k" points="242.7,539.7 256.8,539.2 257.2,548.1 260.5,550 249.3,562.2 237.1,550 242.2,549.5"/>
<polygon points="240.3,561.3 258.2,570.2 253.9,578.1 236.1,569.7" style="fill:#fff;stroke:#111;stroke-width:1.9;stroke-linejoin:miter"/>
<path d="M236.1,569.7 L253.9,578.1" style="stroke:#111;stroke-width:3;fill:none"/>
<text x="226.8" y="532.6" font-size="11.3" textLength="51.5" lengthAdjust="spacingAndGlyphs" style="stroke:#111;stroke-width:0.45">RS5F31A</text>
<text x="186.3" y="585" font-size="11.3" textLength="41.9" lengthAdjust="spacingAndGlyphs" style="stroke:#111;stroke-width:0.45">RS5F32</text>
<text x="231.2" y="585" font-size="11.3" textLength="8.2" lengthAdjust="spacingAndGlyphs" style="stroke:#111;stroke-width:0.45">V</text>
</g>

<g id="d4">
<!-- D4-A origin 632,616 -->
<g transform="translate(632,616) scale(0.125)" class="ln t8">
<path d="M310,0 L320,50 L350,95 L400,125 L440,115 L470,95"/>
<path d="M470,0 C460,40 465,80 475,100"/>
<path d="M495,0 C485,40 490,80 498,95"/>
<path d="M525,20 C515,50 512,75 515,90"/>
<path d="M235,180 L400,130 L620,80"/>
<path d="M130,185 C160,170 200,175 235,185"/>
<path d="M235,180 L300,260 L350,350 L400,480 L450,620 L480,760 L490,880 L490,980"/>
<path d="M400,440 L440,540 L490,680 L520,800 L540,920 L555,985"/>
<path d="M545,595 L580,720 L600,850 L615,960"/>
<path d="M340,190 L400,225 M350,178 L410,213"/>
<path d="M420,270 L465,335 M435,260 L480,325"/>
<path d="M440,165 L490,195 M470,160 L520,190 M500,150 L550,185 M540,145 L580,180 M640,120 L690,160 M680,105 L740,155"/>
<path d="M490,200 L600,180 L750,155"/>
<path d="M490,215 L510,250"/>
<path d="M535,265 L780,210 L815,300 L580,345 Z"/>
<path d="M580,260 L615,335 M610,250 L650,330 M650,245 L680,325 M745,220 L775,300"/>
<path d="M600,390 L700,375 L900,380"/>
<path d="M580,410 L700,395 L830,395 L1024,420"/>
<path d="M830,395 C870,430 950,450 1024,455"/>
<path d="M730,500 L740,460 L800,480 L830,500"/>
<path d="M850,480 C900,510 980,520 1024,515"/>
<path d="M575,460 L570,530 M605,440 L600,540 M650,420 L645,540"/>
<path d="M695,410 L690,520 L600,545"/>
<path d="M740,400 L740,450"/>
<path d="M450,395 C500,410 530,450 500,540"/>
<path d="M430,415 L460,440 L470,500 L455,520"/>
<path d="M690,540 L740,555 L775,575 L760,600 L710,590 L690,570 Z"/>
<path d="M755,560 C740,570 745,595 760,600"/>
<path d="M595,590 L680,570"/>
<path d="M700,600 L760,625"/>
<path d="M585,665 L660,640 L720,660 L790,690"/>
<path d="M810,515 L800,600 L785,680"/>
<path d="M840,560 L820,650"/>
<path d="M860,545 L870,600 L865,660"/>
<path d="M870,680 L1024,670" style="stroke-width:15"/>
<path d="M800,730 C820,700 860,710 900,720 L950,745 C970,770 960,810 930,830 C900,840 870,830 850,800 L800,770 Z"/>
<circle cx="925" cy="790" r="20"/>
<path d="M815,735 L830,785 M840,725 L855,795" style="stroke-width:16"/>
<path d="M610,780 L770,740" style="stroke-width:18;stroke:#333"/>
<path d="M615,805 L780,770"/>
<path d="M620,825 L800,785 L850,800"/>
<path d="M625,845 L700,890 L850,860 L1024,920"/>
<path d="M690,890 L690,990"/>
<path d="M850,870 L850,980"/>
<ellipse cx="180" cy="475" rx="50" ry="75"/>
<path d="M150,390 L200,375 L250,400 L275,470 L265,540 L230,570 L180,560"/>
<path d="M125,280 L150,375 M155,270 L185,365"/>
<path d="M80,310 C110,260 170,240 220,260 C270,290 310,340 340,400"/>
<path d="M250,400 L330,380"/>
<path d="M270,460 L345,440"/>
<path d="M70,530 L120,500"/>
<path d="M65,605 L140,555"/>
<path d="M230,570 L245,640 M255,580 L270,620"/>
<path d="M270,620 L385,550"/>
<path d="M290,680 L410,600"/>
<path d="M145,715 L250,650"/>
<path d="M170,760 L270,700"/>
<path d="M270,700 L290,770 M290,690 L315,760"/>
<ellipse cx="305" cy="860" rx="35" ry="55"/>
<path d="M290,790 L340,770 L370,800 L385,860 L370,910 L340,930"/>
<path d="M180,800 L275,810"/>
<path d="M180,830 L265,850"/>
<path d="M385,825 L470,825"/>
<path d="M385,865 L470,865"/>
<path d="M350,930 L385,990"/>
<path d="M380,920 L420,990"/>
<path d="M650,30 C680,10 720,5 750,10"/>
<path d="M735,15 L775,15 L770,55 L735,55 Z"/>
<path d="M835,0 L880,100 L920,200"/>
<path d="M860,270 C850,310 900,345 1024,345" style="stroke-width:16"/>
<path d="M870,250 C900,225 960,220 1024,235" style="stroke-width:16"/>
<path d="M850,320 L860,360 L900,380"/>
<path d="M940,90 L960,130 M960,50 L975,80"/>
</g>
<!-- D4-B origin 760,616 -->
<g transform="translate(760,616) scale(0.125)" class="ln t8">
<path d="M420,255 L470,285 L560,335 L640,385 L660,420 L662,500 L660,650 L650,780 L640,830 L600,850 L560,860"/>
<path d="M480,140 L470,280"/>
<path d="M400,70 C400,110 430,135 470,130 C500,120 515,90 510,60 L490,0"/>
<path d="M410,40 L420,0"/>
<path d="M445,0 L470,45 L462,0 Z" style="fill:#333"/>
<path d="M160,60 L290,10 L350,0"/>
<path d="M160,60 L185,75 L210,110 L225,125 L360,0"/>
<path d="M220,100 L330,0"/>
<path d="M135,120 L215,160 M145,145 L190,165 M170,110 L240,150"/>
<path d="M20,30 L100,65 M0,60 L60,90 M30,15 L110,50"/>
<path d="M0,240 C60,250 110,290 100,330 C90,365 40,370 0,365" style="stroke-width:18"/>
<path d="M0,270 C40,275 75,300 70,325 C60,345 30,350 0,345"/>
<path d="M160,360 L380,415"/>
<path d="M200,410 L280,425"/>
<circle cx="150" cy="445" r="35"/><circle cx="150" cy="445" r="14"/>
<circle cx="345" cy="480" r="35"/><circle cx="345" cy="480" r="14"/>
<path d="M0,470 C40,455 80,460 110,470"/>
<path d="M0,510 L60,505 L130,480"/>
<path d="M185,470 L305,495"/>
<path d="M385,500 L410,520 L440,470 L470,520 L520,620"/>
<path d="M440,490 L490,600 L520,650"/>
<path d="M130,510 L300,570 L520,660"/>
<path d="M150,530 L300,600 L500,680"/>
<path d="M130,540 L200,575"/>
<circle cx="520" cy="720" r="35"/><circle cx="520" cy="720" r="17"/>
<path d="M480,680 L475,720"/>
<path d="M500,450 L540,530 L560,560"/>
<path d="M520,420 L560,480 L600,535"/>
<path d="M515,555 C530,540 560,545 560,570 L565,640 L540,650 L520,600 Z"/>
<path d="M528,565 L552,595" style="stroke-width:18"/>
<path d="M580,550 L590,600"/>
<path d="M155,550 C60,555 35,650 50,720 C70,790 130,815 190,805 C250,790 270,700 255,620 C240,570 200,548 155,550 Z"/>
<path d="M160,575 C90,580 70,650 80,710 C95,765 140,785 185,775 C230,760 245,690 235,630"/>
<path d="M150,600 C110,610 100,660 110,710 C120,745 160,755 190,745" style="stroke-width:16"/>
<path d="M185,600 C150,605 140,650 150,700 C165,730 200,725 215,690 C225,650 215,605 185,600 Z"/>
<path d="M0,600 L10,540"/>
<path d="M0,680 L20,700 L0,705"/>
<path d="M295,690 L400,730 L480,765"/>
<path d="M280,720 L400,770 L470,800"/>
<path d="M290,790 L380,830 L460,860"/>
<path d="M250,805 L350,845 L460,880"/>
<circle cx="95" cy="810" r="20"/>
<path d="M80,860 L200,920"/>
<path d="M100,835 L340,960"/>
<path d="M0,930 L200,950 L350,965 L300,940"/>
<path d="M10,940 L15,990"/>
<path d="M490,800 L540,790 L570,800 L590,830"/>
<path d="M500,870 L560,860 L570,820"/>
<path d="M520,880 L515,930 L480,950"/>
<path d="M580,860 L585,890 M605,855 L608,885 M625,845 L630,875"/>
<path d="M560,895 L640,870"/>
<path d="M440,900 L400,965"/>
<path d="M480,950 L470,1000 L440,980 L420,990"/>
<path d="M540,930 C570,920 585,945 570,975 C555,1000 530,1000 520,990"/>
<path d="M500,1010 L540,985"/>
</g>
<!-- D4-C origin 640,540 (y<616) -->
<g transform="translate(640,540) scale(0.125)" class="ln t8">
<path d="M370,410 C290,430 240,530 245,630 C250,690 290,720 330,730 L400,715"/>
<path d="M370,410 L450,450 L540,500 L600,540"/>
<path d="M400,425 C320,450 280,540 280,620"/>
<path d="M425,440 C350,470 310,560 310,640"/>
<path d="M455,455 C380,485 340,570 340,660"/>
<path d="M485,470 C410,500 370,590 370,680"/>
<path d="M515,488 C440,520 400,600 400,700"/>
<path d="M540,500 C470,535 425,610 420,710"/>
<path d="M565,515 C490,550 445,620 440,715"/>
<path d="M280,620 L400,700"/>
<path d="M600,540 L670,525 L720,480 L860,325 L1024,320"/>
<path d="M745,480 L890,345"/>
<path d="M890,510 L1024,400" style="stroke-width:20"/>
<path d="M630,545 L680,550"/>
<path d="M590,640 L630,610 L740,630"/>
<path d="M680,580 L655,640"/>
<path d="M670,620 L715,615 L705,665 L670,665 Z" style="stroke-width:14"/>
<path d="M760,515 L800,545 M810,510 L840,530 M860,545 L890,570"/>
<path d="M800,610 L815,630"/>
</g>
<!-- D4-D origin 760,540 (y<616) -->
<g transform="translate(760,540) scale(0.125)" class="ln t8">
<path d="M0,325 L260,320 L290,355 L320,375 L345,420"/>
<path d="M345,430 C380,440 410,470 430,510" style="stroke-width:22"/>
<path d="M350,420 C420,430 470,500 490,580 C505,630 512,650 512,660"/>
<path d="M435,515 L345,608"/>
<path d="M450,530 L360,608"/>
<circle cx="165" cy="375" r="24" style="stroke-width:16"/>
<circle cx="225" cy="415" r="24" style="stroke-width:16"/>
<path d="M150,400 L175,470"/>
<path d="M0,440 L110,350" style="stroke-width:20"/>
<path d="M60,560 L265,450"/>
<path d="M75,580 L275,460"/>
<path d="M40,570 L60,600"/>
<path d="M75,580 L180,560 L230,490"/>
<path d="M190,570 L200,600"/>
<path d="M440,560 L410,650"/>
<path d="M455,580 L470,650"/>
</g>
<!-- arrow (source coords) : from tile A (960..1024,110..235) and tile B (0..75, 95..215) -->
<!-- governor cap overlay -->
<g transform="rotate(12 757 652.8)">
<ellipse cx="757.3" cy="653.3" rx="18.3" ry="8.8" style="fill:#fff;stroke:#222;stroke-width:1.2"/>
<ellipse cx="756.8" cy="652.5" rx="14.6" ry="6.6" style="fill:#fff;stroke:#111;stroke-width:3.1"/>
</g>
<polygon class="k" points="749.9,647.5 758,647.3 760.2,655.8 753,655"/>
<polygon points="753,649.8 755.6,649.8 756.9,653.9 754.3,653.9" style="fill:#fff"/>
<path class="ln" d="M754.9,660.5 L755.2,663 L757.2,663 L757.6,660.5" style="stroke-width:1.3"/>
<polygon class="k" points="757.4,627.8 768.3,630.6 765.8,638.1 769.6,639.4 756.1,644.6 751.1,633.4 755.8,634"/>
<path class="ln" style="stroke-width:1.4" d="M748.6,628.8 L747.4,631.9 M753,627.5 L753.6,631.3 M751.8,624.4 L756.1,625.6 M750.5,618.8 L754.3,621.3 M758,615.6 L758.6,619.4 M753.6,615.3 L756.1,618.1"/>
<!-- leader -->
<path class="ln" d="M710,560 L718.2,560 M711.2,560.4 L732.7,610 L748.4,643.5" style="stroke-width:1.2"/>
<text x="723.5" y="563.8" font-size="9.6" textLength="59.6" lengthAdjust="spacingAndGlyphs" style="stroke:#111;stroke-width:0.25">Governor cap</text>
</g>

<!-- box labels -->
<text class="b" x="104.6" y="130.4" font-size="14.4" textLength="60.2" lengthAdjust="spacingAndGlyphs">GA16DE</text><text class="b" x="171.8" y="130.4" font-size="14.4" textLength="49.2" lengthAdjust="spacingAndGlyphs">engine</text>
<text class="b" x="554.2" y="127.5" font-size="14.4" textLength="58.6" lengthAdjust="spacingAndGlyphs">SR20DE</text><text class="b" x="621" y="127.5" font-size="14.4" textLength="48.8" lengthAdjust="spacingAndGlyphs">engine</text>
<text class="b" x="551.4" y="531.3" font-size="11.6" textLength="54" lengthAdjust="spacingAndGlyphs">RE4F03A</text>
<text x="442.6" y="410" font-size="11.5" textLength="39.4" lengthAdjust="spacingAndGlyphs">SGI674</text>
<text x="894.8" y="409.1" font-size="11.5" textLength="39" lengthAdjust="spacingAndGlyphs">SGI654</text>
<text x="439.5" y="809.4" font-size="11.5" textLength="39.4" lengthAdjust="spacingAndGlyphs">SGI675</text>
<text x="888.8" y="809.1" font-size="11.5" textLength="39.3" lengthAdjust="spacingAndGlyphs">AGI082</text>

</svg>
</body></html>
